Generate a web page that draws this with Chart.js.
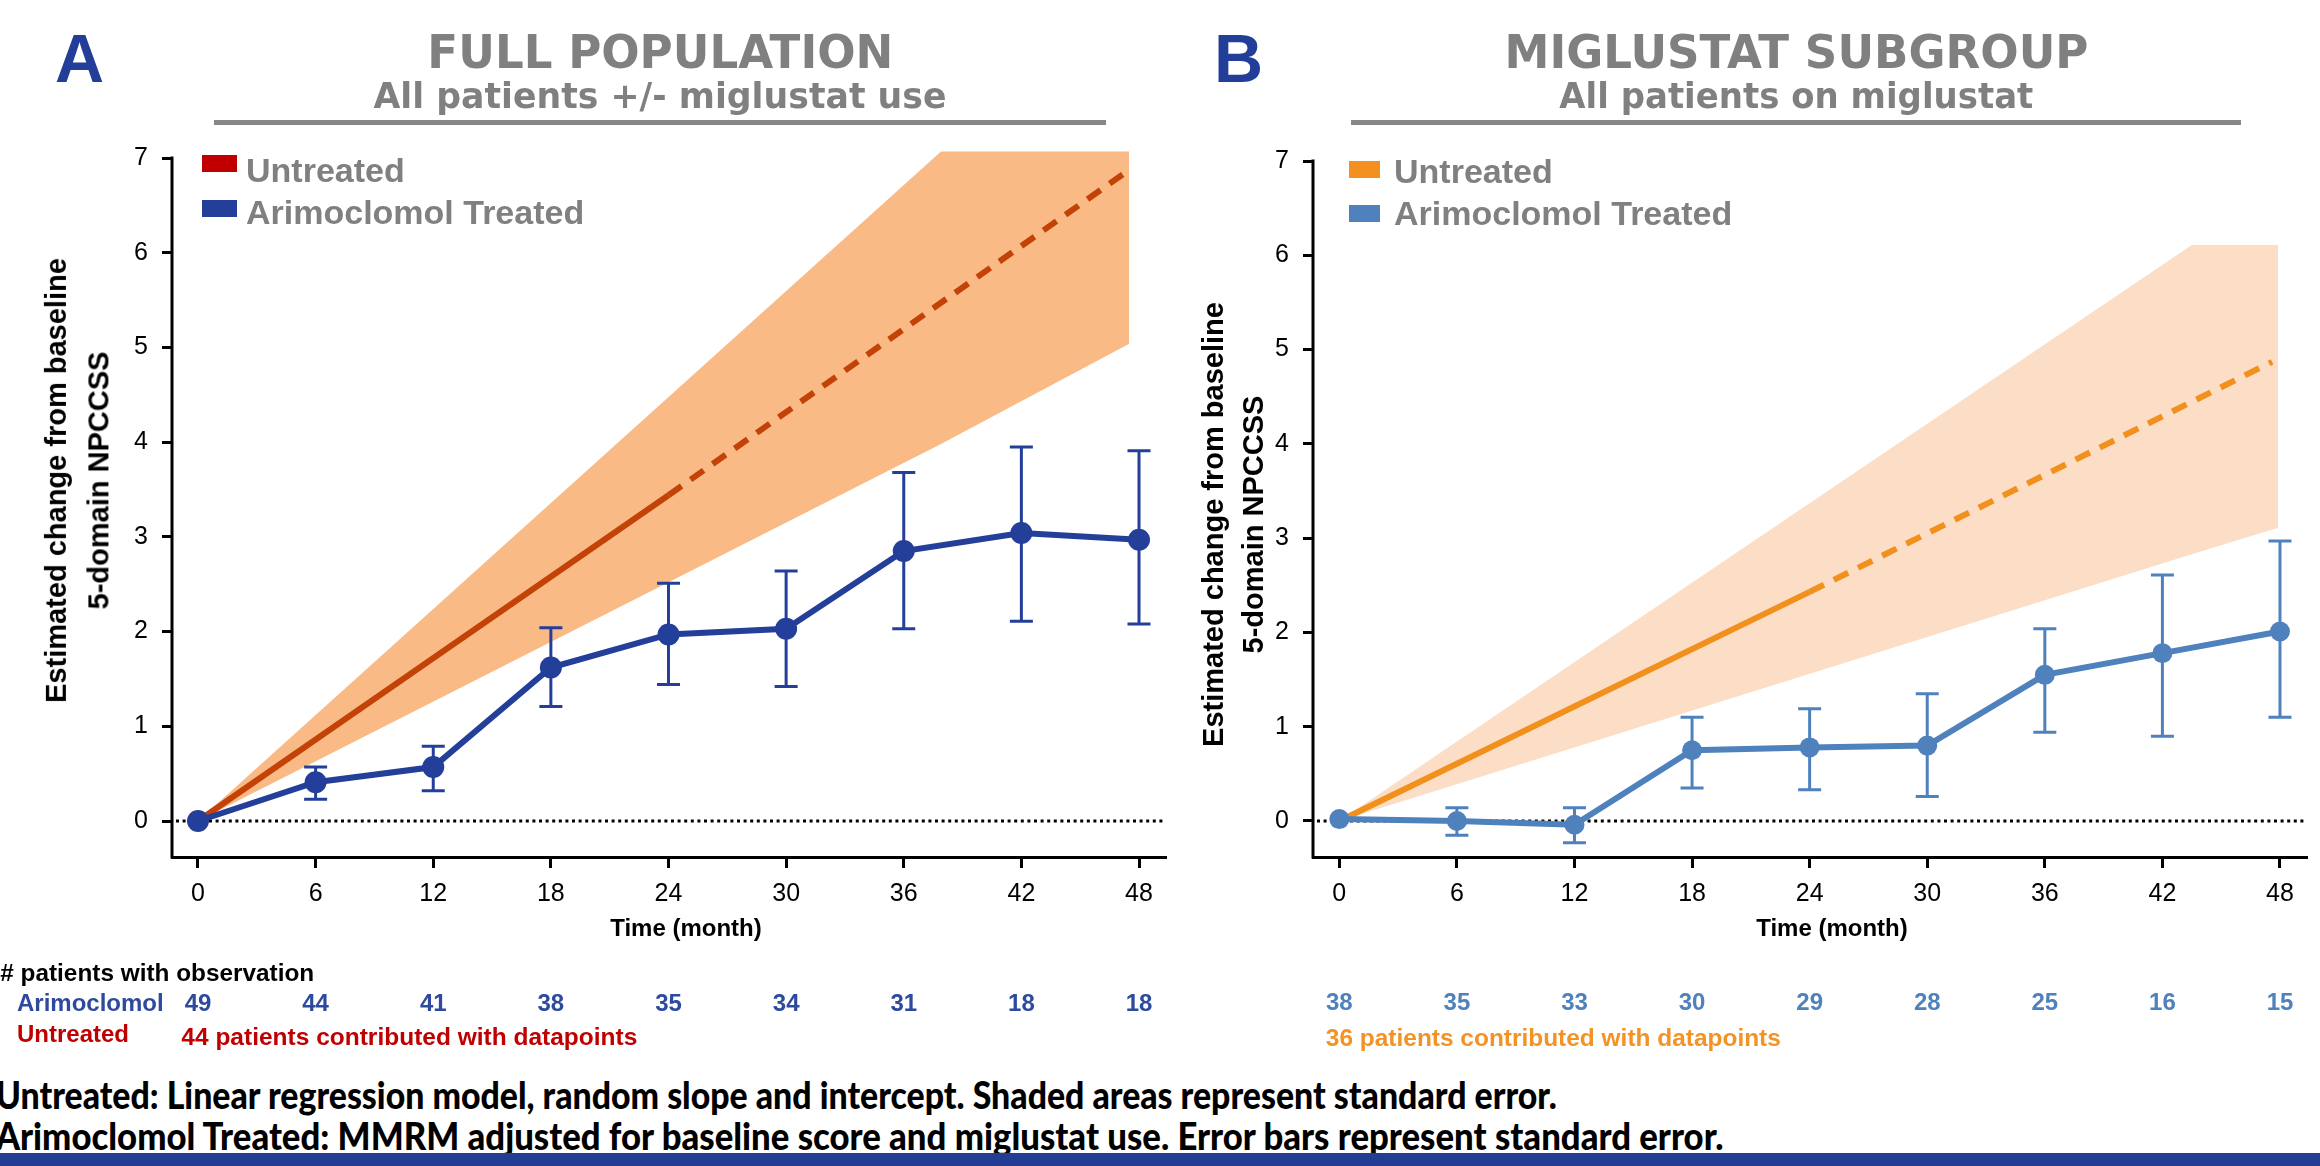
<!DOCTYPE html>
<html><head><meta charset="utf-8">
<script src="https://cdn.jsdelivr.net/npm/chart.js@4.4.1/dist/chart.umd.min.js"></script>
<style>
html,body{margin:0;padding:0;background:#fff;}
#wrap{position:relative;width:2320px;height:1166px;overflow:hidden;background:#fff;}
canvas{position:absolute;top:0;}
.t{position:absolute;white-space:nowrap;line-height:1;}
.blk{position:absolute;}
</style></head><body><div id="wrap">
<canvas id="cA" width="1180" height="1060" style="left:0px;width:1180px;height:1060px"></canvas>
<canvas id="cB" width="1140" height="1060" style="left:1180px;width:1140px;height:1060px"></canvas>
</div>
<script>
// ---------- DATA ----------
const months = [0, 6, 12, 18, 24, 30, 36, 42, 48];
const yTicks = [0, 1, 2, 3, 4, 5, 6, 7];

// Panel A : full population
const aTreated     = [0, 0.41, 0.57, 1.62, 1.97, 2.03, 2.85, 3.04, 2.97];
const aTreatedLow  = [null, 0.23, 0.32, 1.21, 1.44, 1.42, 2.03, 2.11, 2.08];
const aTreatedHigh = [null, 0.57, 0.79, 2.04, 2.51, 2.64, 3.68, 3.95, 3.91];
const aUntreatedX  = [0, 24, 47.6];
const aUntreatedY  = [0, 3.44, 6.89];
const aBandX       = [0, 37.9, 47.5];
const aBandUpper   = [0, 7.07, 7.07];
const aBandLower   = [0, 3.98, 5.04];
const aCounts      = [49, 44, 41, 38, 35, 34, 31, 18, 18];

// Panel B : miglustat subgroup
const bTreated     = [0.02, 0.0, -0.04, 0.75, 0.78, 0.80, 1.55, 1.78, 2.01];
const bTreatedLow  = [null, -0.15, -0.23, 0.35, 0.33, 0.26, 0.94, 0.90, 1.10];
const bTreatedHigh = [null, 0.14, 0.14, 1.10, 1.19, 1.35, 2.04, 2.61, 2.97];
const bUntreatedX  = [0, 24, 47.6];
const bUntreatedY  = [0, 2.43, 4.87];
const bBandX       = [0, 43.5, 47.9];
const bBandUpper   = [0, 6.11, 6.11];
const bBandLower   = [0, 2.83, 3.11];
const bCounts      = [38, 35, 33, 30, 29, 28, 25, 16, 15];

const seriesLabels = ['Untreated', 'Arimoclomol Treated'];

// ---------- PLUGIN ----------
const panelExtras = {
  id: 'panelExtras',
  beforeDatasetsDraw(chart, args, o) {
    const {ctx, chartArea, scales: {x, y}} = chart;
    const y0 = y.getPixelForValue(0);
    ctx.save();
    ctx.setLineDash([3, 3.6]);
    ctx.lineWidth = 3;
    ctx.strokeStyle = '#000';
    ctx.beginPath();
    ctx.moveTo(chartArea.left + 4, y0);
    ctx.lineTo(chartArea.right, y0);
    ctx.stroke();
    ctx.restore();
  },
  afterDatasetsDraw(chart, args, o) {
    const {ctx, scales: {x, y}} = chart;
    ctx.save();
    ctx.strokeStyle = o.color;
    ctx.lineWidth = 3;
    months.forEach((m, i) => {
      if (o.low[i] === null) return;
      const px = x.getPixelForValue(m);
      const yl = y.getPixelForValue(o.low[i]);
      const yh = y.getPixelForValue(o.high[i]);
      ctx.beginPath();
      ctx.moveTo(px, yl); ctx.lineTo(px, yh);
      ctx.moveTo(px - o.cap, yl); ctx.lineTo(px + o.cap, yl);
      ctx.moveTo(px - o.cap, yh); ctx.lineTo(px + o.cap, yh);
      ctx.stroke();
    });
    ctx.restore();
  },
  afterDraw(chart, args, o) {
    const {ctx, chartArea, scales: {x, y}} = chart;
    ctx.save();
    ctx.strokeStyle = '#000';
    ctx.lineWidth = 3;
    ctx.beginPath();
    const yt = y.getPixelForValue(yTicks[yTicks.length - 1]);
    ctx.moveTo(chartArea.left, yt - 1.5);
    ctx.lineTo(chartArea.left, chartArea.bottom + 1.5);
    ctx.stroke();
    ctx.font = 'bold 24px "Liberation Sans"';
    ctx.fillStyle = o.countColor;
    ctx.textAlign = 'center';
    ctx.textBaseline = 'alphabetic';
    months.forEach((m, i) => {
      ctx.fillText(String(o.counts[i]), x.getPixelForValue(m), o.countBaseline);
    });
    ctx.restore();
  }
};

function pts(xs, ys) { return xs.map((v, i) => ({x: v, y: ys[i]})); }

function makeChart(id, c) {
  const tickFont = {family: '"Liberation Sans", Arial, sans-serif', size: 25};
  return new Chart(document.getElementById(id), {
    type: 'line',
    data: {
      datasets: [
        {
          label: seriesLabels[1],
          data: pts(months, c.treated),
          borderColor: c.treatedColor, backgroundColor: c.treatedColor,
          borderWidth: 6, pointRadius: c.pointR, pointBorderWidth: 0,
          pointBackgroundColor: c.treatedColor, fill: false, tension: 0
        },
        {
          label: seriesLabels[0],
          data: pts(c.untreatedX, c.untreatedY),
          borderColor: c.untreatedColor, borderWidth: 6, pointRadius: 0, fill: false,
          borderCapStyle: 'butt',
          segment: { borderDash: ctx => ctx.p0.parsed.x >= 24 ? [16, 11] : undefined }
        },
        {
          label: 'SE upper',
          data: pts(c.bandX, c.bandUpper),
          borderWidth: 0, borderColor: 'rgba(0,0,0,0)', pointRadius: 0,
          backgroundColor: c.bandColor, fill: '+1'
        },
        {
          label: 'SE lower',
          data: pts(c.bandX, c.bandLower),
          borderWidth: 0, borderColor: 'rgba(0,0,0,0)', pointRadius: 0, fill: false
        }
      ]
    },
    options: {
      responsive: false, animation: false, devicePixelRatio: 1,
      layout: {padding: {top: c.padTop, right: c.padRight, left: 0, bottom: 0}},
      plugins: {
        legend: {display: false}, tooltip: {enabled: false},
        panelExtras: {
          low: c.low, high: c.high, color: c.treatedColor, cap: 11.5,
          counts: c.counts, countColor: c.countColor, countBaseline: c.countBaseline
        }
      },
      scales: {
        x: {
          type: 'linear', min: c.xMin, max: c.xMax,
          afterFit: s => { s.height = 203; },
          afterBuildTicks: s => { s.ticks = months.map(v => ({value: v})); },
          grid: {drawOnChartArea: false, drawTicks: true, tickLength: 11, tickWidth: 3, tickColor: '#000'},
          border: {display: true, width: 3, color: '#000'},
          ticks: {font: tickFont, color: '#000', padding: 11, maxRotation: 0, autoSkip: false}
        },
        y: {
          type: 'linear', min: c.yMin, max: c.yMax,
          afterFit: s => { s.width = c.yWidth; },
          afterBuildTicks: s => { s.ticks = yTicks.map(v => ({value: v})); },
          grid: {drawOnChartArea: false, drawTicks: true, tickLength: 10, tickWidth: 3, tickColor: '#000'},
          border: {display: false},
          ticks: {font: tickFont, color: '#000', padding: 14}
        }
      }
    },
    plugins: [panelExtras]
  });
}

makeChart('cA', {
  treated: aTreated, low: aTreatedLow, high: aTreatedHigh,
  untreatedX: aUntreatedX, untreatedY: aUntreatedY,
  bandX: aBandX, bandUpper: aBandUpper, bandLower: aBandLower,
  counts: aCounts, countColor: '#2E4A9E', countBaseline: 1011,
  treatedColor: '#243F99', untreatedColor: '#C24208', bandColor: '#F9BA86',
  pointR: 11, padTop: 151, padRight: 14, yWidth: 172,
  xMin: -1.326, xMax: 49.377, yMin: -0.380, yMax: 7.074
});
makeChart('cB', {
  treated: bTreated, low: bTreatedLow, high: bTreatedHigh,
  untreatedX: bUntreatedX, untreatedY: bUntreatedY,
  bandX: bBandX, bandUpper: bBandUpper, bandLower: bBandLower,
  counts: bCounts, countColor: '#4F81BD', countBaseline: 1010,
  treatedColor: '#4F81BD', untreatedColor: '#F2901E', bandColor: '#FCDDC5',
  pointR: 10, padTop: 161, padRight: 13, yWidth: 133,
  xMin: -1.342, xMax: 49.378, yMin: -0.382, yMax: 7
});

// ---------- TEXT & DECORATION ----------
const wrap = document.getElementById('wrap');
function addText(txt, o) {
  const d = document.createElement('div');
  d.className = 't';
  d.textContent = txt;
  d.style.fontFamily = o.family || '"Liberation Sans", Arial, sans-serif';
  d.style.fontWeight = o.weight || 'bold';
  d.style.fontSize = o.size + 'px';
  d.style.color = o.color || '#000';
  wrap.appendChild(d);
  let r = d.getBoundingClientRect();
  let w = r.width, h = r.height, sx = 1;
  if (o.w) {
    if (o.mode === 'scale') sx = o.w / w;
    else {
      d.style.fontSize = (o.size * o.w / w) + 'px';
      r = d.getBoundingClientRect(); w = r.width; h = r.height;
    }
  }
  const cx = (o.cx !== undefined) ? o.cx : o.x + w * sx / 2;
  d.style.left = (cx - w / 2) + 'px';
  d.style.top = (o.cy - h / 2) + 'px';
  d.style.transformOrigin = 'center center';
  let tf = '';
  if (o.rot) tf += 'rotate(-90deg) ';
  if (sx !== 1) tf += 'scaleX(' + sx + ')';
  if (tf) d.style.transform = tf;
  return d;
}
function addBlock(x, y, w, h, color) {
  const d = document.createElement('div');
  d.className = 'blk';
  d.style.left = x + 'px'; d.style.top = y + 'px';
  d.style.width = w + 'px'; d.style.height = h + 'px';
  d.style.background = color;
  wrap.appendChild(d);
}
const GRAY = '#808080';
const TITLE_FONT = '"DejaVu Sans", Verdana, sans-serif';

// Panel letters and titles
addText('A', {x: 55, cy: 57.5, size: 68, color: '#233E99'});
addText('B', {x: 1214, cy: 58, size: 68, color: '#233E99'});
addText('FULL POPULATION', {cx: 660, cy: 52, size: 46, w: 466, mode: 'scale', family: TITLE_FONT, color: GRAY});
addText('All patients +/- miglustat use', {cx: 660, cy: 96.5, size: 35, w: 573, mode: 'scale', family: TITLE_FONT, color: GRAY});
addText('MIGLUSTAT SUBGROUP', {cx: 1796, cy: 52, size: 46, w: 584, mode: 'scale', family: TITLE_FONT, color: GRAY});
addText('All patients on miglustat', {cx: 1796, cy: 96.5, size: 35, w: 474, mode: 'scale', family: TITLE_FONT, color: GRAY});
addBlock(214, 120, 892, 5, '#878787');
addBlock(1351, 120, 890, 5, '#878787');

// Legends
addBlock(202, 155, 35, 17, '#C00000');
addBlock(202, 200, 35, 17, '#243F99');
addText(seriesLabels[0], {x: 246, cy: 169.5, size: 34, color: GRAY});
addText(seriesLabels[1], {x: 246, cy: 212, size: 34, color: GRAY});
addBlock(1349, 161, 31, 17, '#F39020');
addBlock(1349, 205, 31, 17, '#4F81BD');
addText(seriesLabels[0], {x: 1394, cy: 171, size: 34, color: GRAY});
addText(seriesLabels[1], {x: 1394, cy: 213, size: 34, color: GRAY});

// Axis titles
const yTitle1 = 'Estimated change from baseline', yTitle2 = '5-domain NPCCSS', xTitle = 'Time (month)';
addText(yTitle1, {cx: 56, cy: 480, size: 29, rot: true});
addText(yTitle2, {cx: 99, cy: 480, size: 29, rot: true});
addText(yTitle1, {cx: 1213, cy: 524, size: 29, rot: true});
addText(yTitle2, {cx: 1254, cy: 524, size: 29, rot: true});
addText(xTitle, {cx: 686, cy: 928, size: 24});
addText(xTitle, {cx: 1832, cy: 928, size: 24});

// Patient count row labels
addText('# patients with observation', {x: 0, cy: 973, size: 23, w: 314, mode: 'scale'});
addText('Arimoclomol', {x: 17, cy: 1003, size: 24, color: '#2E4A9E'});
addText('Untreated', {x: 17, cy: 1034, size: 24, color: '#C00000'});
addText('44 patients contributed with  datapoints', {x: 181, cy: 1037, size: 24, w: 456, mode: 'scale', color: '#C00000'});
addText('36 patients contributed with  datapoints', {x: 1326, cy: 1038, size: 24, w: 455, mode: 'scale', color: '#F39325'});

// Footnotes
addText('Untreated: Linear regression model, random slope and intercept. Shaded areas represent standard error.',
  {x: -4, cy: 1094, size: 37, w: 1561, mode: 'scale', weight: '900', family: 'Lato, "Open Sans", sans-serif'});
addText('Arimoclomol Treated: MMRM adjusted for baseline score and miglustat use. Error bars represent standard error.',
  {x: -4, cy: 1135, size: 37, w: 1728, mode: 'scale', weight: '900', family: 'Lato, "Open Sans", sans-serif'});

// bottom band
addBlock(0, 1153, 2320, 13, '#233D94');
</script>
</body></html>
